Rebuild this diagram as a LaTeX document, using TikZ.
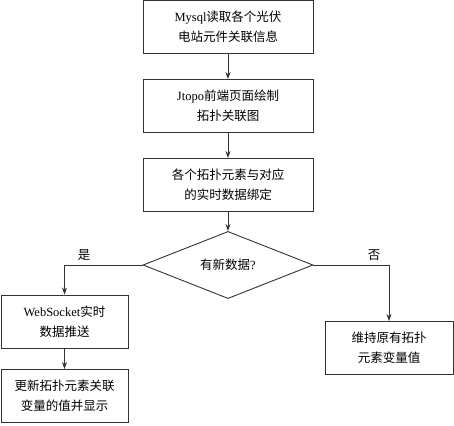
\documentclass[tikz,border=0pt]{standalone}
\usepackage{fontspec}
\setmainfont{Liberation Serif}
\newfontfamily\cjk{Noto Sans CJK SC}
\usetikzlibrary{shapes.geometric,arrows.meta}
\begin{document}
\begin{tikzpicture}[x=1pt,y=-1pt,
  box/.style={draw=black!80,line width=0.9pt,minimum width=170pt,minimum height=53pt,inner sep=2pt,align=center,font=\fontsize{12.5}{20}\selectfont\cjk},
  sbox/.style={box,minimum width=127pt},
  dec/.style={draw=black!80,line width=0.9pt,shape=diamond,minimum width=170pt,minimum height=54pt,inner sep=0pt,font=\fontsize{12.5}{20}\selectfont\cjk},
  arr/.style={draw=black!80,line width=0.9pt,-{Stealth[length=7pt,width=5pt]}},
  lbl/.style={font=\fontsize{12.5}{14}\selectfont\cjk}]
\useasboundingbox (0,0) rectangle (454,425);
\newcommand{\lat}[1]{{\rmfamily #1}}
\node[box] (b1) at (228,27) {\lat{Mysql}读取各个光伏\\电站元件关联信息};
\node[box] (b2) at (228,106) {\lat{Jtopo}前端页面绘制\\拓扑关联图};
\node[box] (b3) at (228,185) {各个拓扑元素与对应\\的实时数据绑定};
\node[dec] (d) at (228,265) {有新数据\lat{?}};
\node[sbox] (b4) at (64.5,321.5) {\lat{WebSocket}实时\\数据推送};
\node[sbox] (b5) at (64.5,396) {更新拓扑元素关联\\变量的值并显示};
\node[sbox,minimum width=128pt] (b6) at (389,348) {维持原有拓扑\\元素变量值};
\draw[arr] (b1) -- (b2);
\draw[arr] (b2) -- (b3);
\draw[arr] (b3) -- (d);
\draw[arr] (d.west) -| (b4.north);
\draw[arr] (d.east) -| (b6.north);
\draw[arr] (b4) -- (b5);
\node[lbl] (yes) at (84,255) {是};
\node[lbl] (no) at (374,255) {否};
\end{tikzpicture}
\end{document}
